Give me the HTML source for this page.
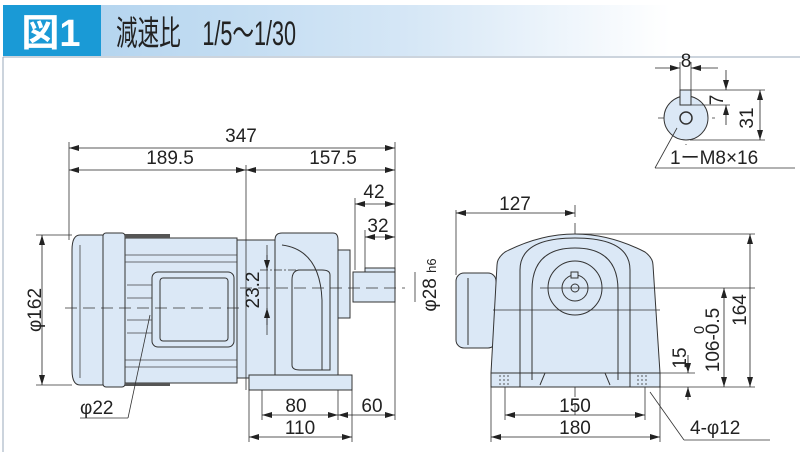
<!DOCTYPE html>
<html><head><meta charset="utf-8"><style>
html,body{margin:0;padding:0;background:#fff}
svg{display:block}
text{font-family:"Liberation Sans","Noto Sans CJK JP",sans-serif;fill:#222}
</style></head><body>
<svg width="800" height="452" viewBox="0 0 800 452" xmlns="http://www.w3.org/2000/svg">
<defs>
<linearGradient id="g" x1="0" x2="1"><stop offset="0" stop-color="#b5d5ef"/><stop offset="0.55" stop-color="#d6e7f6"/><stop offset="1" stop-color="#fff"/></linearGradient>
<marker id="a" viewBox="0 0 10 6" refX="10" refY="3" markerWidth="10" markerHeight="6" orient="auto-start-reverse" markerUnits="userSpaceOnUse"><path d="M0,0 L10,3 L0,6z" fill="#222"/></marker>
</defs>
<rect x="100" y="5" width="570" height="51" fill="url(#g)"/>
<rect x="3" y="5" width="98" height="51" fill="#1a9ad6"/>
<text x="51" y="46" font-size="38" font-weight="bold" text-anchor="middle" style="fill:#fff">図1</text>
<text x="116" y="45" font-size="34" textLength="180" lengthAdjust="spacingAndGlyphs">減速比　1/5～1/30</text>
<line x1="3" y1="57" x2="800" y2="57" stroke="#9ab" stroke-width="1"/>
<line x1="3" y1="57" x2="3" y2="452" stroke="#9ab" stroke-width="1"/>

<g stroke="#333" stroke-width="1" fill="#dbe8f6">
<path d="M80,235 H103 V385 H80 Q72,385 72,370 V250 Q72,235 80,235z"/>
<rect x="103" y="233" width="22" height="154" rx="3"/>
<rect x="125" y="238" width="112" height="145"/>
<rect x="152" y="272" width="82" height="75" rx="6"/>
<rect x="160" y="278" width="68" height="63" rx="3"/>
<rect x="237" y="240" width="38" height="138"/>
<path d="M275,240 Q275,233 282,233 H333 Q338,233 338,240 V375 H275z"/>
<path d="M338,250 H350 V318 H338z"/>
<rect x="353" y="272" width="42" height="30"/>
<rect x="365" y="268" width="30" height="4"/>
<rect x="249" y="375" width="103" height="15"/>
<path d="M292,300 V365 Q292,370 300,370 H330 V275 Q330,270 322,270 H300 Q292,270 292,280z" fill="none"/>
<path d="M282,245 Q320,250 322,300 V370" fill="none"/>
</g>
<g stroke="#444" stroke-width="0.8" fill="none">
<line x1="125" y1="255" x2="237" y2="255"/><line x1="125" y1="262" x2="237" y2="262"/>
<line x1="125" y1="360" x2="237" y2="360"/><line x1="125" y1="367" x2="237" y2="367"/>
<line x1="127" y1="285" x2="152" y2="285"/><line x1="127" y1="298" x2="152" y2="298"/>
<line x1="127" y1="320" x2="152" y2="320"/><line x1="127" y1="333" x2="152" y2="333"/>
<line x1="80" y1="245" x2="80" y2="378"/>
</g>
<rect x="125" y="234" width="45" height="4" fill="#555"/>
<rect x="125" y="383" width="45" height="3" fill="#555"/>
<g stroke="#333" stroke-width="0.8" stroke-dasharray="12,6" fill="none">
<line x1="65" y1="308" x2="245" y2="308"/>
<line x1="240" y1="288" x2="405" y2="288"/>
<line x1="575" y1="205" x2="575" y2="420"/>
<line x1="658" y1="118" x2="715" y2="118"/>
<line x1="686" y1="90" x2="686" y2="145"/>
</g>

<g stroke="#333" stroke-width="1" fill="#dbe8f6">
<rect x="456" y="273" width="40" height="75" rx="8"/>
<path d="M491,373 L497,265 Q497,258 505,252 Q540,234 575,234 Q610,234 645,252 Q653,258 653,265 L660,373z"/>
<rect x="491" y="373" width="169" height="14"/>
<path d="M520,387 V270 Q520,238 575,238 Q630,238 630,270 V387" fill="none"/>
<path d="M532,380 V290 Q532,248 575,248 Q618,248 618,290 V380" fill="none"/>
<path d="M540,385 L545,373 H605 L610,385" fill="none"/>
<circle cx="575" cy="288" r="27"/>
<circle cx="575" cy="288" r="13"/>
<circle cx="575" cy="288" r="4"/>
<rect x="571" y="272" width="7" height="6"/>
<line x1="468" y1="278" x2="468" y2="345" fill="none"/>
</g>
<g stroke="#333" stroke-width="0.8" fill="none">
<line x1="493" y1="310" x2="660" y2="310"/>
<line x1="540" y1="288" x2="755" y2="288"/>
<line x1="575" y1="234" x2="755" y2="234"/>
<line x1="660" y1="387" x2="755" y2="387"/>
<line x1="640" y1="373" x2="695" y2="373"/>
<line x1="505" y1="387" x2="505" y2="420"/>
<line x1="645" y1="387" x2="645" y2="420"/>
<line x1="491" y1="387" x2="491" y2="442"/>
<line x1="660" y1="387" x2="660" y2="442"/>
<line x1="456" y1="210" x2="456" y2="275"/>
<path d="M500,375 V387 M504,375 V387 M508,375 V387 M638,375 V387 M642,375 V387 M646,375 V387" stroke-dasharray="2,2"/>
</g>

<g stroke="#333" stroke-width="0.8" fill="none">
<line x1="69" y1="142" x2="69" y2="240"/>
<line x1="246" y1="165" x2="246" y2="390"/>
<line x1="395" y1="142" x2="395" y2="420"/>
<line x1="355" y1="198" x2="355" y2="270"/>
<line x1="365" y1="230" x2="365" y2="268"/>
<line x1="36" y1="235" x2="72" y2="235"/>
<line x1="36" y1="385" x2="72" y2="385"/>
<line x1="415" y1="272" x2="415" y2="302"/>
<line x1="249" y1="390" x2="249" y2="442"/>
<line x1="262" y1="390" x2="262" y2="420"/>
<line x1="338" y1="390" x2="338" y2="420"/>
<line x1="352" y1="390" x2="352" y2="442"/>
<line x1="267" y1="245" x2="267" y2="335"/>
<line x1="260" y1="270" x2="300" y2="270" stroke-dasharray="8,2,2,2"/>
<line x1="150" y1="315" x2="128" y2="418"/><line x1="128" y1="418" x2="80" y2="418"/>
<line x1="650" y1="392" x2="684" y2="440"/><line x1="684" y1="440" x2="770" y2="440"/>
</g>
<g stroke="#222" stroke-width="0.8" fill="none" marker-start="url(#a)" marker-end="url(#a)">
<line x1="69" y1="148" x2="395" y2="148"/>
<line x1="69" y1="170" x2="246" y2="170"/>
<line x1="246" y1="170" x2="395" y2="170"/>
<line x1="355" y1="204" x2="395" y2="204"/>
<line x1="365" y1="237" x2="395" y2="237"/>
<line x1="42" y1="235" x2="42" y2="385"/>
<line x1="262" y1="415" x2="338" y2="415"/>
<line x1="338" y1="415" x2="395" y2="415"/>
<line x1="249" y1="437" x2="352" y2="437"/>
<line x1="456" y1="213" x2="575" y2="213"/>
<line x1="750" y1="234" x2="750" y2="387"/>
<line x1="724" y1="288" x2="724" y2="387"/>
<line x1="505" y1="415" x2="645" y2="415"/>
<line x1="491" y1="437" x2="660" y2="437"/>
<line x1="760" y1="90" x2="760" y2="140"/>
</g>
<g stroke="#222" stroke-width="0.8" fill="none" marker-end="url(#a)">
<line x1="267" y1="255" x2="267" y2="270"/>
<line x1="267" y1="325" x2="267" y2="308"/>
<line x1="688" y1="355" x2="688" y2="373"/>
<line x1="688" y1="400" x2="688" y2="387"/>
<line x1="655" y1="68" x2="680" y2="68"/>
<line x1="718" y1="68" x2="691" y2="68"/>
<line x1="726" y1="70" x2="726" y2="90"/>
<line x1="726" y1="125" x2="726" y2="105"/>
</g>
<g font-size="19">
<text x="241" y="142" text-anchor="middle">347</text>
<text x="170" y="164" text-anchor="middle">189.5</text>
<text x="333" y="164" text-anchor="middle">157.5</text>
<text x="374" y="198" text-anchor="middle">42</text>
<text x="378" y="232" text-anchor="middle">32</text>
<text transform="translate(436,285) rotate(-90)" text-anchor="middle">φ28 <tspan font-size="13">h6</tspan></text>
<text transform="translate(41,310) rotate(-90)" text-anchor="middle">φ162</text>
<text transform="translate(259,290) rotate(-90)" text-anchor="middle">23.2</text>
<text x="80" y="414">φ22</text>
<text x="296" y="412" text-anchor="middle">80</text>
<text x="372" y="412" text-anchor="middle">60</text>
<text x="300" y="434" text-anchor="middle">110</text>
<text x="515" y="210" text-anchor="middle">127</text>
<text transform="translate(746,310) rotate(-90)" text-anchor="middle">164</text>
<text transform="translate(719,340) rotate(-90)" text-anchor="middle">106-0.5</text>
<text transform="translate(704,330) rotate(-90)" text-anchor="middle" font-size="15">0</text>
<text transform="translate(686,358) rotate(-90)" text-anchor="middle">15</text>
<text x="575" y="412" text-anchor="middle">150</text>
<text x="575" y="434" text-anchor="middle">180</text>
<text x="690" y="434">4-φ12</text>
<text x="686" y="67" text-anchor="middle">8</text>
<text transform="translate(723,100) rotate(-90)" text-anchor="middle">7</text>
<text transform="translate(753,118) rotate(-90)" text-anchor="middle">31</text>
<text x="670" y="164">1ーM8×16</text>
</g>
<g stroke="#333" stroke-width="1" fill="#dbe8f6">
<circle cx="686" cy="118" r="22"/>
<rect x="680" y="90" width="11" height="15"/>
<circle cx="686" cy="118" r="6" fill="none" stroke-width="1.5"/>
</g>
<g stroke="#333" stroke-width="0.8" fill="none">
<line x1="680" y1="62" x2="680" y2="90"/><line x1="691" y1="62" x2="691" y2="90"/>
<line x1="691" y1="90" x2="765" y2="90"/><line x1="691" y1="105" x2="730" y2="105"/>
<line x1="690" y1="140" x2="765" y2="140"/>
<line x1="677" y1="128" x2="655" y2="168"/><line x1="655" y1="168" x2="795" y2="168"/>
</g>
</svg>
</body></html>
